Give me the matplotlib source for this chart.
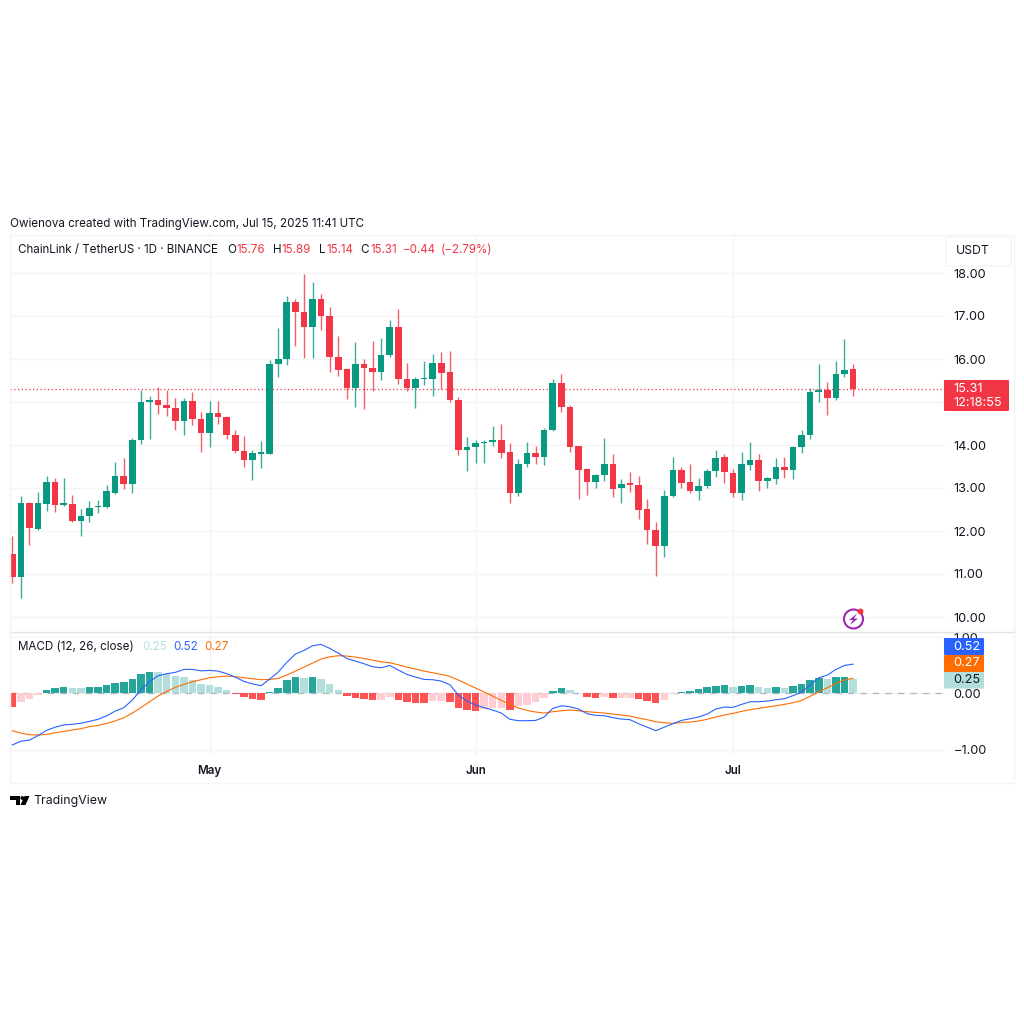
import matplotlib
matplotlib.use('Agg')
import matplotlib.pyplot as plt
import matplotlib.dates as mdates
from matplotlib.patches import Rectangle, FancyBboxPatch, Circle, Polygon
import numpy as np
import pandas as pd

plt.rcParams['font.family'] = ['Inter', 'DejaVu Sans']

dates = pd.date_range('2025-04-08', '2025-07-15', freq='D')

opens = [11.46, 10.92, 12.65, 12.05, 12.63, 13.15, 12.60, 12.63, 12.23, 12.35, 12.55, 12.56, 12.89, 13.28,
         13.09, 14.12, 15.00, 15.05, 14.92, 14.86, 14.55, 15.02, 14.60,
         14.29, 14.74, 14.65, 14.23, 13.85, 13.64, 13.80, 13.80, 15.88, 16.00, 17.33, 17.09, 16.74, 17.39, 17.00,
         16.04, 15.76, 15.32, 15.88, 15.78, 15.70, 16.09, 16.74, 15.53, 15.32, 15.53, 15.53, 15.91, 15.69, 15.05, 13.88,
         13.95, 14.05, 14.07, 14.12, 13.84, 12.88, 13.56, 13.81, 13.71, 14.35, 15.44, 14.88, 13.98, 13.45, 13.15, 13.30,
         13.56, 12.99, 13.12, 13.07, 12.51, 12.02, 11.64, 12.82, 13.41, 13.13, 12.93, 13.04, 13.40, 13.71,
         13.36, 12.89, 13.54, 13.65, 13.16, 13.22, 13.48, 13.43, 13.96, 14.24, 15.24, 15.28, 15.10, 15.65, 15.76]
highs = [11.88, 12.81, 12.67, 12.90, 13.29, 13.24, 13.24, 12.83, 12.52, 12.70, 12.72, 13.06, 13.60, 13.70,
         14.17, 15.27, 15.15, 15.35, 15.27, 15.09, 15.09, 15.24, 14.76,
         15.03, 15.02, 14.67, 14.36, 14.20, 13.88, 14.09, 15.98, 16.73, 17.46, 17.40, 17.97, 17.80, 17.52, 17.20,
         16.53, 15.79, 16.40, 16.00, 16.42, 16.49, 16.91, 17.16, 15.91, 15.57, 15.96, 16.12, 16.16, 16.19, 15.12, 14.19,
         14.12, 14.12, 14.44, 14.48, 14.04, 13.68, 14.07, 13.97, 14.39, 15.53, 15.65, 14.92, 13.98, 13.47, 13.33, 14.16,
         13.79, 13.22, 13.38, 13.29, 12.74, 12.20, 12.95, 13.72, 13.50, 13.56, 13.23, 13.44, 13.88, 13.78,
         13.44, 13.84, 14.08, 13.78, 13.25, 13.69, 13.72, 13.98, 14.36, 15.33, 15.88, 15.47, 15.95, 16.47, 15.89]
lows = [10.78, 10.45, 11.68, 12.02, 12.47, 12.44, 12.57, 12.21, 11.89, 12.22, 12.41, 12.53, 12.87, 12.97,
        12.88, 14.02, 14.15, 14.71, 14.68, 14.36, 14.23, 14.47, 13.83,
        13.96, 14.50, 14.15, 13.81, 13.49, 13.19, 13.46, 13.80, 15.57, 15.86, 16.30, 16.03, 16.03, 16.67, 15.69,
        15.60, 15.07, 14.88, 14.84, 15.25, 15.51, 16.05, 15.42, 15.25, 14.86, 15.40, 15.15, 15.31, 15.01, 13.76, 13.40,
        13.57, 13.59, 13.98, 13.70, 12.64, 12.82, 13.50, 13.56, 13.54, 14.33, 14.77, 13.83, 12.75, 12.83, 13.00, 13.17,
        12.80, 12.64, 12.91, 12.29, 11.69, 10.95, 11.40, 12.78, 13.00, 12.88, 12.73, 13.00, 13.25, 13.12,
        12.78, 12.73, 13.43, 12.92, 12.99, 13.10, 13.24, 13.20, 13.81, 14.15, 15.00, 14.70, 15.04, 15.57, 15.14]
closes = [10.92, 12.65, 12.08, 12.64, 13.15, 12.61, 12.64, 12.23, 12.35, 12.53, 12.57, 12.93, 13.28, 13.09,
          14.12, 15.00, 15.05, 14.92, 14.85, 14.55, 15.02, 14.60, 14.29,
          14.74, 14.64, 14.23, 13.85, 13.64, 13.81, 13.82, 15.88, 16.00, 17.33, 17.09, 16.74, 17.39, 17.00, 16.05,
          15.74, 15.32, 15.88, 15.78, 15.70, 16.09, 16.74, 15.53, 15.32, 15.53, 15.56, 15.91, 15.67, 15.05, 13.88, 13.95,
          14.05, 14.08, 14.11, 13.81, 12.88, 13.56, 13.82, 13.71, 14.36, 15.44, 14.88, 13.95, 13.43, 13.14, 13.30, 13.56,
          12.98, 13.10, 13.06, 12.50, 12.02, 11.64, 12.81, 13.41, 13.12, 12.93, 13.05, 13.39, 13.69, 13.37,
          12.88, 13.56, 13.66, 13.16, 13.23, 13.48, 13.43, 13.96, 14.24, 15.23, 15.27, 15.10, 15.65, 15.74, 15.31]

hist = [-0.25, -0.15, -0.10, -0.03, 0.06, 0.09, 0.107, 0.098, 0.095, 0.107, 0.112, 0.142, 0.183, 0.195,
        0.254, 0.337, 0.385, 0.379, 0.343, 0.308, 0.296, 0.231, 0.16,
        0.142, 0.107, 0.053, -0.01, -0.07, -0.095, -0.112, 0.024, 0.10, 0.237, 0.29, 0.278, 0.30, 0.26, 0.16,
        0.06, -0.04, -0.077, -0.10, -0.118, -0.112, -0.065, -0.112, -0.16, -0.166, -0.168, -0.137, -0.135, -0.16, -0.254, -0.296,
        -0.308, -0.284, -0.266, -0.254, -0.296, -0.23, -0.207, -0.16, -0.083, 0.047, 0.089, 0.053, 0.012, -0.06, -0.077, -0.065,
        -0.089, -0.083, -0.077, -0.10, -0.142, -0.172, -0.112, -0.018, 0.024, 0.04, 0.07, 0.107, 0.14, 0.142,
        0.112, 0.13, 0.142, 0.112, 0.095, 0.107, 0.095, 0.124, 0.16, 0.23, 0.278, 0.26, 0.29, 0.292, 0.25]
macd = [-0.917, -0.85, -0.83, -0.75, -0.657, -0.60, -0.56, -0.55, -0.53, -0.497, -0.46, -0.40, -0.314, -0.254,
        -0.118, 0.06, 0.207, 0.314, 0.35, 0.373, 0.426, 0.426, 0.40,
        0.408, 0.396, 0.35, 0.29, 0.213, 0.17, 0.136, 0.254, 0.379, 0.55, 0.698, 0.763, 0.846, 0.87, 0.80,
        0.716, 0.62, 0.574, 0.527, 0.473, 0.456, 0.497, 0.414, 0.337, 0.29, 0.249, 0.243, 0.219, 0.154, -0.03, -0.136,
        -0.207, -0.254, -0.296, -0.349, -0.46, -0.485, -0.485, -0.48, -0.42, -0.266, -0.22, -0.237, -0.278, -0.36, -0.39, -0.396,
        -0.43, -0.456, -0.467, -0.538, -0.60, -0.663, -0.60, -0.538, -0.48, -0.45, -0.42, -0.367, -0.278, -0.243,
        -0.249, -0.195, -0.148, -0.148, -0.136, -0.112, -0.095, -0.04, 0.024, 0.148, 0.278, 0.325, 0.426, 0.497, 0.52]
signal = [-0.663, -0.704, -0.734, -0.74, -0.728, -0.698, -0.675, -0.65, -0.627, -0.59, -0.568, -0.533, -0.49, -0.432,
          -0.349, -0.254, -0.148, -0.047, 0.036, 0.107, 0.16, 0.207, 0.243,
          0.278, 0.296, 0.308, 0.296, 0.278, 0.26, 0.243, 0.249, 0.266, 0.325, 0.396, 0.467, 0.538, 0.61, 0.65,
          0.669, 0.663, 0.645, 0.62, 0.59, 0.562, 0.544, 0.509, 0.467, 0.432, 0.396, 0.367, 0.337, 0.302, 0.237, 0.166,
          0.095, 0.024, -0.047, -0.124, -0.195, -0.26, -0.302, -0.331, -0.349, -0.325, -0.308, -0.296, -0.308, -0.325, -0.337, -0.349,
          -0.367, -0.385, -0.402, -0.438, -0.467, -0.503, -0.52, -0.533, -0.515, -0.51, -0.49, -0.46, -0.42, -0.385,
          -0.355, -0.32, -0.29, -0.266, -0.243, -0.22, -0.195, -0.166, -0.124, -0.053, 0.03, 0.10, 0.178, 0.237, 0.27]

price_ticks = [10, 11, 12, 13, 14, 15, 16, 17, 18]
price_tick_labels = ['10.00', '11.00', '12.00', '13.00', '14.00', '', '16.00', '17.00', '18.00']
macd_ticks = [-1, 0, 1]
macd_tick_labels = ['\u22121.00', '0.00', '1.00']
month_ticks = ['2025-05-01', '2025-06-01', '2025-07-01']
month_labels = ['May', 'Jun', 'Jul']

UP = '#089981'
DOWN = '#F23645'
GRID = '#F3F4F6'
TEXT = '#131722'
W = 1024.0


def px(x, y):
    # pixel position (origin top left) to figure fraction
    return x / W, 1 - y / W


def pane(left, top, right, bottom):
    return fig.add_axes([left / W, 1 - bottom / W, (right - left) / W, (bottom - top) / W])


def tag(x0, y0, x1, y1, color):
    fig.add_artist(FancyBboxPatch(px(x0 + 1, y1 - 1), (x1 - x0 - 2) / W, (y1 - y0 - 2) / W,
                                  boxstyle='round,pad=0.001', transform=fig.transFigure,
                                  fc=color, ec='none', zorder=5))


def label(x, y, s, color=TEXT, size=8.35, **kw):
    x, y = px(x, y)
    fig.text(x, y, s, color=color, fontsize=size, va='center', zorder=6, **kw)


fig = plt.figure(figsize=(10.24, 10.24), dpi=100, facecolor='white')

ax = pane(10, 235, 945, 631)
ax2 = pane(10, 631, 945, 755)

x = mdates.date2num(dates)
x_left = x[0] - 0.26
x_right = x_left + 935 / 8.58
for a in (ax, ax2):
    a.set_xlim(x_left, x_right)
    for s in a.spines.values():
        s.set_visible(False)
    a.set_xticks(mdates.date2num(pd.to_datetime(month_ticks)))
    a.grid(True, color=GRID, lw=1)
    a.set_axisbelow(True)
    a.tick_params(length=0, labelbottom=False, labelleft=False, labelright=True, pad=6,
                  labelsize=9.2, labelcolor=TEXT)
    a.patch.set_alpha(0)

# candles
ax.set_ylim(18 - (631 - 273) / 43, 18 + (273 - 235) / 43)
ax.set_yticks(price_ticks, price_tick_labels)
ax.yaxis.tick_right()
colors = [UP if c >= o else DOWN for o, c in zip(opens, closes)]
ax.vlines(x, lows, highs, colors=colors, lw=1, alpha=0.8, zorder=3)
body = np.abs(np.array(closes) - np.array(opens))
body = np.maximum(body, 0.03)
ax.bar(x, body, bottom=np.minimum(opens, closes), width=6.6 / 8.58, color=colors, lw=0, zorder=4)
ax.axhline(closes[-1], color=DOWN, lw=0.9, ls=(0, (1, 2)), zorder=2)

# macd pane
ax2.set_ylim((693.4 - 755) / 56.3, (693.4 - 631) / 56.3)
ax2.set_yticks(macd_ticks, macd_tick_labels)
ax2.yaxis.tick_right()
hist_colors = []
for i, h in enumerate(hist):
    rising = i > 0 and h >= hist[i - 1]
    if h >= 0:
        hist_colors.append('#26A69A' if rising else '#B2DFDB')
    else:
        hist_colors.append('#FFCDD2' if rising else '#FF5252')
ax2.axhline(0, color='#B2B5BE', lw=0.9, ls=(0, (5, 5)), zorder=1)
ax2.bar(x, hist, width=7.5 / 8.58, color=hist_colors, lw=0, zorder=2)
ax2.plot(x, macd, color='#2962FF', lw=0.8, zorder=4)
ax2.plot(x, signal, color='#FF6D00', lw=0.8, zorder=3)

# outer frame and separators
fig.add_artist(Rectangle(px(10, 783), 1004 / W, 548 / W, transform=fig.transFigure, fc='none',
                         ec=GRID, lw=1))
fig.add_artist(plt.Line2D([10 / W, 1014 / W], [1 - 631.5 / W] * 2, color='#E0E3EB', lw=1))

# month labels
for day, name in zip(month_ticks, month_labels):
    xp = 10 + (mdates.datestr2num(day) - x_left) * 8.58
    label(xp, 771, name, ha='center', fontweight='semibold')

# header rows
label(10, 223.5, 'Owienova created with TradingView.com, Jul 15, 2025 11:41 UTC')
label(18, 250, 'ChainLink / TetherUS \u00b7 1D \u00b7 BINANCE')
label(227, 250, 'O')
label(236.7, 250, '15.76', DOWN)
label(272.7, 250, 'H')
label(281.7, 250, '15.89', DOWN)
label(319, 250, 'L')
label(326.7, 250, '15.14', DOWN)
label(360.7, 250, 'C')
label(370, 250, '15.31', DOWN)
label(403, 250, '\u22120.44', DOWN)
label(440.7, 250, '(\u22122.79%)', DOWN)
label(18, 647.5, 'MACD (12, 26, close)')
label(142, 647.5, '0.25', '#B2DFDB')
label(173, 647.5, '0.52', '#2962FF')
label(204, 647.5, '0.27', '#FF6D00')

# currency button
fig.add_artist(FancyBboxPatch(px(948, 264), 61 / W, 25 / W, boxstyle='round,pad=0.002',
                              transform=fig.transFigure, fc='white', ec=GRID, lw=1))
label(956, 251, 'USDT', size=8.8)

# last price and indicator tags
tag(944, 380, 1009, 411, DOWN)
label(953, 388.5, '15.31', '#FFFFFF', 9.2)
label(953, 402.5, '12:18:55', '#FFFFFF', 9.2)
tag(944, 638, 984, 655, '#2962FF')
label(953, 646.5, '0.52', '#FFFFFF', 9.2)
tag(944, 655, 984, 672, '#FF6D00')
label(953, 663, '0.27', '#FFFFFF', 9.2)
tag(944, 672, 984, 688.5, '#B2DFDB')
label(953, 680, '0.25', TEXT, 9.2)

# lightning badge
fig.add_artist(Circle((853.5, 1024 - 619), 9.5, transform=None, fc='white', ec='#9C27B0', lw=1.5, zorder=6))
bolt = [(857, 613.5), (849, 620), (853, 620), (850, 625), (858, 618.5), (854, 618.5)]
fig.add_artist(Polygon([(a, 1024 - b) for a, b in bolt], transform=None, fc='#9C27B0', ec='none', zorder=7))
fig.add_artist(Circle((860.5, 1024 - 611.5), 3, transform=None, fc=DOWN, ec='none', zorder=8))

# footer logo
logo_t = [(10, 796), (20, 796), (20, 805), (15.5, 805), (15.5, 800), (10, 800)]
logo_v = [(24.5, 796), (29.5, 796), (25.5, 805), (20.5, 805)]
for shape in (logo_t, logo_v):
    fig.add_artist(Polygon([(a, 1024 - b) for a, b in shape], transform=None, fc='#000000', ec='none'))
fig.add_artist(Circle((22.3, 1024 - 798), 1.9, transform=None, fc='#000000', ec='none'))
label(33, 801, 'TradingView', '#131722', 8.9)

fig.savefig('out.png', dpi=100)
